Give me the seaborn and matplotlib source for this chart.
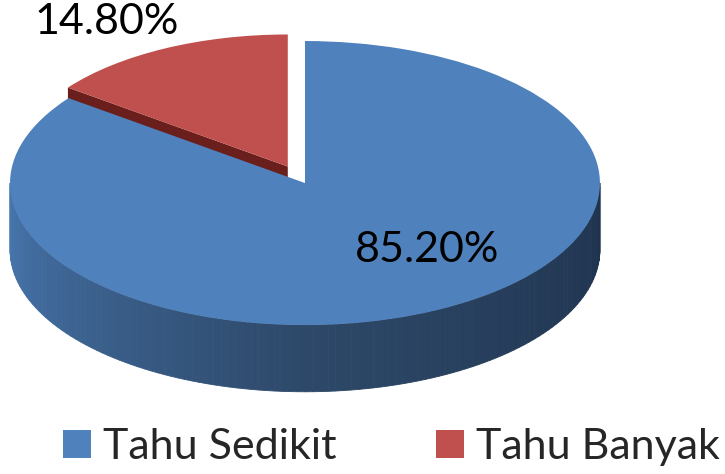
import numpy as np
import matplotlib
matplotlib.use("Agg")
import matplotlib.pyplot as plt
import seaborn as sns
from matplotlib.patches import Polygon, Patch
from matplotlib.colors import to_rgb

sns.set_theme(style="white")
plt.rcParams['font.family'] = ['Lato', 'DejaVu Sans']

# data
labels = ["Tahu Sedikit", "Tahu Banyak"]
values = [85.2, 14.8]
pct_text = ["85.20%", "14.80%"]
colors = ["#4f81bd", "#c0504d"]
explode = [0, 0.13]

depth = 0.47  # thickness of the 3d disc, in y units
red_radius = 0.93  # exploded slice sits further back, looks a bit smaller

fig = plt.figure(figsize=(7.25, 4.74), dpi=100)
ax = fig.add_axes([0, 0, 1, 1])

# side of the blue slice (front half), shaded left -> right
side_cols = [np.array(to_rgb(c)) for c in ["#4877b0", "#2d4868", "#1e324d"]]
n = 120
th = np.linspace(np.pi, 2 * np.pi, n + 1)
for i in range(n):
    t0, t1 = th[i], th[i + 1]
    f = i / n
    if f < 0.5:
        c = side_cols[0] * (1 - 2 * f) + side_cols[1] * 2 * f
    else:
        c = side_cols[1] * (2 - 2 * f) + side_cols[2] * (2 * f - 1)
    pts = [(np.cos(t0), np.sin(t0)), (np.cos(t1), np.sin(t1)),
           (np.cos(t1), np.sin(t1) - depth), (np.cos(t0), np.sin(t0) - depth)]
    ax.add_patch(Polygon(pts, closed=True, facecolor=c, edgecolor=c, lw=0.6))

# cut face of the exploded red slice
start = 90.0
end_red = np.deg2rad(start + 360 * values[1] / 100)
mid_red = np.deg2rad(start + 180 * values[1] / 100)
ox, oy = explode[1] * np.cos(mid_red), explode[1] * np.sin(mid_red)
rim = (ox + red_radius * np.cos(end_red), oy + red_radius * np.sin(end_red))
face = [(ox, oy), rim, (rim[0], rim[1] - depth), (ox, oy - depth)]
ax.add_patch(Polygon(face, closed=True, facecolor="#6b1f1d", edgecolor="none"))

# top surface
wedges, _ = ax.pie(values, colors=colors, explode=explode, startangle=90,
                   counterclock=False, radius=1,
                   wedgeprops=dict(edgecolor="none"))
wedges[1].set_radius(red_radius)
wedges[1].set_zorder(1)
wedges[0].set_zorder(2)

ax.text(0.414, -0.472, pct_text[0], ha="center", va="center", fontsize=31, color="black", zorder=5)
ax.text(-0.671, 1.134, pct_text[1], ha="center", va="center", fontsize=31, color="black", zorder=5)

ax.set_aspect("auto")
ax.set_xlim(-1.034, 1.424)
ax.set_ylim(-2.049, 1.289)
ax.axis("off")

handles = [Patch(facecolor=c, edgecolor="none") for c in colors]
fig.legend(handles, labels, loc="center left", bbox_to_anchor=(63 / 725, 1 - 447 / 474),
           ncol=2, frameon=False, fontsize=31, handlelength=0.65, handleheight=0.62,
           handletextpad=0.28, columnspacing=2.3, borderpad=0, borderaxespad=0)

fig.savefig("out.png", dpi=100)
